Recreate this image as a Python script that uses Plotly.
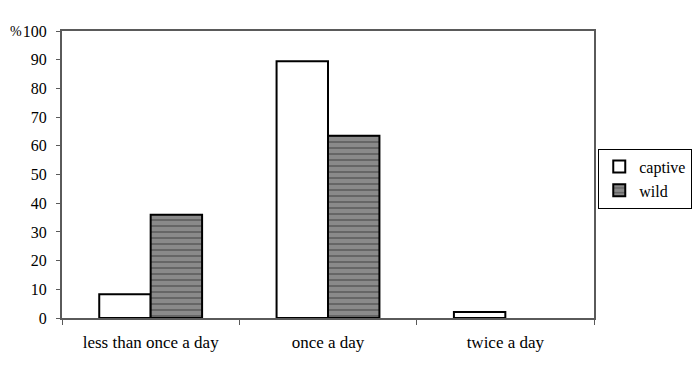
import plotly.graph_objects as go

categories = ["less than once a day", "once a day", "twice a day"]
captive = [8.3, 89.5, 2.1]
wild = [36.0, 63.5, 0.0]
series_names = ["captive", "wild"]

FONT = "'Liberation Serif', 'Times New Roman', serif"

fig = go.Figure()
fig.add_trace(go.Bar(
    x=categories, y=captive, name=series_names[0],
    marker=dict(color="white", line=dict(color="black", width=2)),
))
fig.add_trace(go.Bar(
    x=categories, y=wild, name=series_names[1],
    marker=dict(color="#8a8a8a", line=dict(color="black", width=[2, 2, 0]),
                pattern=dict(shape="-", fgcolor="#2a2a2a", bgcolor="#8a8a8a",
                             size=6, solidity=0.25)),
))

fig.update_layout(
    width=692, height=366,
    margin=dict(l=54, r=106, t=23, b=56, autoexpand=False),
    paper_bgcolor="white", plot_bgcolor="white",
    font=dict(family=FONT, size=17, color="black"),
    barmode="group", bargap=0.42, bargroupgap=0,
    showlegend=True,
    legend=dict(x=1.008, xanchor="left", y=0.59, yanchor="top",
                bordercolor="black", borderwidth=1, bgcolor="white",
                font=dict(family=FONT, size=16), itemwidth=30,
                tracegroupgap=0),
    xaxis=dict(showline=True, linecolor="#5a5a5a", linewidth=2, mirror=True,
               ticks="outside", tickson="boundaries", ticklen=5,
               tickcolor="#5a5a5a", showgrid=False, zeroline=False,
               ticklabelstandoff=8,
               tickfont=dict(family=FONT, size=17)),
    yaxis=dict(range=[0, 100], dtick=10, showline=True, linecolor="#5a5a5a",
               linewidth=2, mirror=True, ticks="outside", ticklen=4,
               tickcolor="#5a5a5a", showgrid=False, zeroline=False,
               ticklabelstandoff=6,
               tickfont=dict(family=FONT, size=16)),
    annotations=[dict(text="%", xref="paper", yref="paper", x=-0.1015, y=1.0,
                      xanchor="left", yanchor="middle", showarrow=False,
                      font=dict(family=FONT, size=14))],
)

fig.write_html("out.html")
